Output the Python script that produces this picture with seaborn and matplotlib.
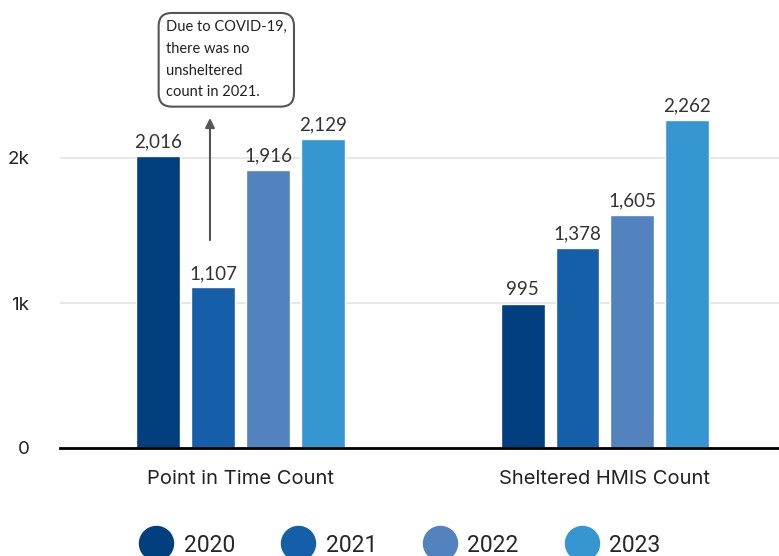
import matplotlib
matplotlib.use("Agg")
import matplotlib.pyplot as plt
import seaborn as sns
import pandas as pd
from matplotlib.lines import Line2D

categories = ["Point in Time Count", "Sheltered HMIS Count"]
years = ["2020", "2021", "2022", "2023"]
pit_values = [2016, 1107, 1916, 2129]
hmis_values = [995, 1378, 1605, 2262]
colors = ["#023f7e", "#155ea8", "#5283be", "#3696d2"]
ytick_vals = [0, 1000, 2000]
ytick_labels = ["0", "1k", "2k"]
note = "Due to COVID-19,\nthere was no\nunsheltered\ncount in 2021."

rows = []
for y, v in zip(years, pit_values):
    rows.append({"category": categories[0], "year": y, "value": v})
for y, v in zip(years, hmis_values):
    rows.append({"category": categories[1], "year": y, "value": v})
df = pd.DataFrame(rows)

sns.set_theme(style="white")
plt.rcParams["font.family"] = ["Lato", "DejaVu Sans"]

fig = plt.figure(figsize=(7.79, 5.56), dpi=100)
ax = fig.add_axes([60 / 779, 108 / 556, 719 / 779, (448 - 27.5) / 556])

sns.barplot(data=df, x="category", y="value", hue="year", palette=colors,
            width=0.604, gap=0.2, ax=ax, legend=False, saturation=1,
            order=categories, hue_order=years)

ax.set_xlim(-0.497, 1.478)
ax.set_ylim(0, 2900)
ax.set_yticks(ytick_vals)
ax.set_yticklabels(ytick_labels, fontsize=13.5, color="#222222",
                   family=["Inter", "DejaVu Sans"])
for lab in ax.get_xticklabels():
    lab.set_family(["Inter", "DejaVu Sans"])
ax.tick_params(axis="y", length=0, pad=22)
ax.tick_params(axis="x", length=0, pad=16, labelsize=14.5, labelcolor="#222222")
ax.set_xlabel("")
ax.set_ylabel("")
for s in ["top", "right", "left"]:
    ax.spines[s].set_visible(False)
ax.spines["bottom"].set_color("#000000")
ax.spines["bottom"].set_linewidth(2)
ax.yaxis.grid(True, color="#e3e3e3", linewidth=1.2)
ax.set_axisbelow(True)

for cont in ax.containers:
    ax.bar_label(cont, labels=[f"{int(v):,}" for v in cont.datavalues],
                 padding=4, fontsize=13.5, color="#333333")

# annotation arrow and note box
ax.annotate("", xy=(-0.085, 2276), xytext=(-0.085, 1434),
            arrowprops=dict(arrowstyle="-|>", color="#555555", lw=1.5,
                            mutation_scale=14, shrinkA=0, shrinkB=0))
ax.text(-0.206, 2950, note, ha="left", va="top", fontsize=10.5,
        color="#222222", linespacing=1.7,
        bbox=dict(boxstyle="round,pad=0.5,rounding_size=0.9",
                  fc="white", ec="#555555", lw=1.5))

handles = [Line2D([0], [0], marker="o", linestyle="", markersize=24.5,
                  markerfacecolor=c, markeredgecolor=c) for c in colors]
fig.legend(handles, years, loc="center", bbox_to_anchor=(397 / 779, 11 / 556),
           ncol=4, frameon=False, handletextpad=0.2,
           columnspacing=1.75, prop={"family": ["Roboto", "DejaVu Sans"], "size": 16.5})

fig.savefig("out.png", dpi=100)
